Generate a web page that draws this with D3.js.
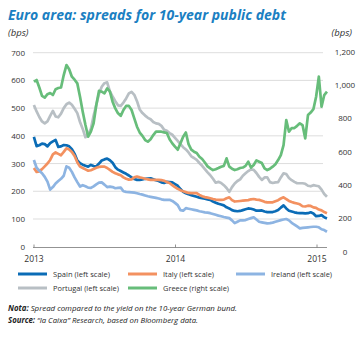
<!DOCTYPE html>
<html>
<head>
<meta charset="utf-8">
<script src="https://cdn.jsdelivr.net/npm/d3@7"></script>
<style>
  html, body { margin: 0; padding: 0; background: #fff; }
  svg { display: block; font-family: "Open Sans", "Noto Sans", sans-serif; }
</style>
</head>
<body>
<svg id="chart" width="360" height="338"></svg>
<script>
// ---- data (weekly readings, bps) ----
const dates = [
  "2013-01-02","2013-01-09","2013-01-16","2013-01-23","2013-01-30","2013-02-06","2013-02-13","2013-02-20","2013-02-27","2013-03-06",
  "2013-03-13","2013-03-20","2013-03-27","2013-04-03","2013-04-10","2013-04-17","2013-04-24","2013-05-01","2013-05-08","2013-05-15",
  "2013-05-22","2013-05-29","2013-06-05","2013-06-12","2013-06-19","2013-06-26","2013-07-03","2013-07-10","2013-07-17","2013-07-24",
  "2013-07-31","2013-08-07","2013-08-14","2013-08-21","2013-08-28","2013-09-04","2013-09-11","2013-09-18","2013-09-25","2013-10-02",
  "2013-10-09","2013-10-16","2013-10-23","2013-10-30","2013-11-06","2013-11-13","2013-11-20","2013-11-27","2013-12-04","2013-12-11",
  "2013-12-18","2013-12-25","2014-01-01","2014-01-08","2014-01-15","2014-01-22","2014-01-29","2014-02-05","2014-02-12","2014-02-19",
  "2014-02-26","2014-03-05","2014-03-12","2014-03-19","2014-03-26","2014-04-02","2014-04-09","2014-04-16","2014-04-23","2014-04-30",
  "2014-05-07","2014-05-14","2014-05-21","2014-05-28","2014-06-04","2014-06-11","2014-06-18","2014-06-25","2014-07-02","2014-07-09",
  "2014-07-16","2014-07-23","2014-07-30","2014-08-06","2014-08-13","2014-08-20","2014-08-27","2014-09-03","2014-09-10","2014-09-17",
  "2014-09-24","2014-10-01","2014-10-08","2014-10-15","2014-10-22","2014-10-29","2014-11-05","2014-11-12","2014-11-19","2014-11-26",
  "2014-12-03","2014-12-10","2014-12-17","2014-12-24","2014-12-31","2015-01-07","2015-01-14","2015-01-21","2015-01-28"
];
const spain = [396,363,366,372,370,362,374,380,385,360,362,367,366,362,352,335,311,301,296,292,289,295,291,290,300,311,315,318,312,303,287,278,273,268,263,257,250,244,241,241,243,245,246,247,243,240,237,232,230,234,233,232,226,220,208,198,193,189,186,183,180,177,175,173,171,169,163,159,155,152,149,142,138,132,129,128,129,132,135,138,137,134,130,130,131,127,125,125,125,128,132,141,149,138,130,127,124,122,121,121,120,121,124,120,110,111,114,106,102];
const italy = [284,270,272,280,290,300,313,333,340,335,330,342,355,351,342,327,305,289,284,279,274,276,280,285,288,289,289,284,277,270,265,261,258,250,245,242,243,250,253,250,248,245,243,241,241,241,241,240,238,233,230,222,215,209,204,200,197,194,193,193,193,187,182,179,177,175,172,170,169,169,170,175,178,168,163,164,165,166,167,168,171,172,170,169,166,162,160,160,160,164,168,174,178,172,165,161,158,156,153,146,145,148,147,142,140,134,131,125,121];
const ireland = [313,285,274,265,252,235,206,215,228,237,245,256,290,285,270,250,233,217,222,218,213,212,218,225,231,232,224,215,217,215,211,212,213,200,198,197,196,195,193,190,188,185,182,180,178,176,174,171,169,169,169,165,158,150,132,130,139,137,135,133,131,128,126,124,123,121,118,115,112,110,107,105,103,95,85,90,95,95,96,100,103,106,98,90,88,86,84,85,87,90,93,96,98,100,95,86,80,73,66,68,69,70,71,72,72,70,63,60,54];
const portugal = [511,488,468,452,445,452,472,490,470,467,480,500,514,520,512,498,482,450,425,395,405,425,472,512,552,577,590,593,560,542,525,510,508,520,535,553,559,548,525,495,482,473,465,460,450,445,443,436,422,418,410,404,393,382,370,359,351,340,326,320,313,302,292,280,268,258,245,231,234,230,222,212,198,215,228,237,243,256,265,273,279,277,266,252,241,250,250,233,230,232,233,250,265,262,248,240,234,229,229,229,227,220,218,222,220,218,206,190,180];
const greece = [1020,1030,985,935,925,945,952,940,975,982,985,1060,1120,1095,1050,1032,1010,930,840,760,690,720,770,880,965,960,950,980,962,900,860,830,815,850,875,875,850,800,750,715,695,670,660,675,700,720,720,720,716,712,675,650,630,612,650,690,715,645,612,600,592,570,556,535,512,500,490,495,502,510,515,560,510,498,490,495,502,505,515,540,505,520,548,540,532,500,490,498,510,525,550,580,640,790,720,742,742,755,770,760,680,820,835,855,930,1050,870,940,960];

const leftTicks = [0,100,200,300,400,500,600,700];
const rightTicks = [0,200,400,600,800,1000,1200];
const yearTicks = ["2013-01-01","2014-01-01","2015-01-01"];

const seriesNames = ["Spain (left scale)","Italy (left scale)","Ireland (left scale)","Portugal (left scale)","Greece (right scale)"];
const colors = ["#0b6cb6","#f39160","#8db4e2","#b8bfc4","#67bd7a"];

// ---- layout ----
const svg = d3.select("#chart");
const parse = d3.timeParse("%Y-%m-%d");
const x = d3.scaleTime().domain([parse("2013-01-01"), parse("2015-01-01")]).range([33.5, 316.5]);
const yL = d3.scaleLinear().domain([0, 700]).range([246.7, 52.7]);
const yR = d3.scaleLinear().domain([0, 1200]).range([251.7, 51.7]);

// title
svg.append("text").attr("x", 8).attr("y", 19.5)
  .attr("fill", "#1b7fc2").attr("font-size", 14).attr("font-weight", "bold").attr("font-style", "italic")
  .attr("textLength", 278).attr("lengthAdjust", "spacingAndGlyphs")
  .text("Euro area: spreads for 10-year public debt");
svg.append("text").attr("x", 8).attr("y", 36).attr("font-size", 9.5).attr("font-style", "italic").attr("fill", "#333").text("(bps)");
svg.append("text").attr("x", 352).attr("y", 36).attr("text-anchor", "end").attr("font-size", 9.5).attr("font-style", "italic").attr("fill", "#333").text("(bps)");

// gridlines
svg.append("g").selectAll("line").data(leftTicks.filter(d => d > 0)).join("line")
  .attr("x1", 33).attr("x2", 323).attr("y1", d => yL(d)).attr("y2", d => yL(d))
  .attr("stroke", "#d4d4d4").attr("stroke-width", 0.8);

// left axis labels
const gL = svg.append("g").attr("transform", "translate(25,0)")
  .call(d3.axisLeft(yL).tickValues(leftTicks).tickSize(0).tickPadding(0));
gL.select(".domain").remove();
gL.selectAll("text").attr("font-size", 8).attr("fill", "#333").attr("font-family", "Open Sans, sans-serif");

// right axis labels
const gR = svg.append("g").attr("transform", "translate(345,0)")
  .call(d3.axisRight(yR).tickValues(rightTicks).tickSize(0).tickPadding(0).tickFormat(d3.format(",")));
gR.select(".domain").remove();
gR.selectAll("text").attr("font-size", 8).attr("fill", "#333").attr("text-anchor", "middle").attr("font-family", "Open Sans, sans-serif");

// x axis
const gX = svg.append("g").attr("transform", "translate(0,247.5)")
  .call(d3.axisTop(x).tickValues(yearTicks.map(parse)).tickSize(3).tickFormat(d3.timeFormat("%Y")));
gX.select(".domain").attr("d", "M33,0H327").attr("stroke", "#777").attr("stroke-width", 0.8);
gX.selectAll(".tick line").attr("stroke", "#777").attr("stroke-width", 0.8);
gX.selectAll("text").attr("y", 14).attr("dy", 0).attr("font-size", 8.5).attr("fill", "#333").attr("font-family", "Open Sans, sans-serif");

// lines
const dd = dates.map(parse);
const lineL = d3.line().x((d, i) => x(dd[i])).y(d => yL(d));
const lineR = d3.line().x((d, i) => x(dd[i])).y(d => yR(d));
const allSeries = [
  { v: spain, gen: lineL, c: colors[0] },
  { v: italy, gen: lineL, c: colors[1] },
  { v: ireland, gen: lineL, c: colors[2] },
  { v: portugal, gen: lineL, c: colors[3] },
  { v: greece, gen: lineR, c: colors[4] }
];
svg.append("g").selectAll("path").data(allSeries).join("path")
  .attr("d", s => s.gen(s.v)).attr("fill", "none").attr("stroke", s => s.c)
  .attr("stroke-width", 2.7).attr("stroke-linejoin", "round");

// legend
const legPos = [[18,274],[128,274],[236,274],[18,288],[128,288]];
const legW = [57,51,61,66,66];
const lg = svg.append("g").selectAll("g").data(seriesNames).join("g")
  .attr("transform", (d, i) => `translate(${legPos[i][0]},${legPos[i][1]})`);
lg.append("line").attr("x1", 0).attr("x2", 29).attr("y1", 0).attr("y2", 0)
  .attr("stroke", (d, i) => colors[i]).attr("stroke-width", 3);
lg.append("text").attr("x", 35).attr("y", 3).attr("font-size", 8).attr("fill", "#333")
  .attr("textLength", (d, i) => legW[i]).attr("lengthAdjust", "spacingAndGlyphs").text(d => d);

// notes
const note = svg.append("text").attr("x", 8).attr("y", 311).attr("font-size", 8).attr("font-style", "italic").attr("fill", "#222")
  .attr("textLength", 229).attr("lengthAdjust", "spacingAndGlyphs");
note.append("tspan").attr("font-weight", "bold").text("Nota: ");
note.append("tspan").text("Spread compared to the yield on the 10-year German bund.");
const src = svg.append("text").attr("x", 8).attr("y", 323).attr("font-size", 8).attr("font-style", "italic").attr("fill", "#222")
  .attr("textLength", 190).attr("lengthAdjust", "spacingAndGlyphs");
src.append("tspan").attr("font-weight", "bold").text("Source: ");
src.append("tspan").text("\u201cla Caixa\u201d Research, based on Bloomberg data.");
</script>
</body>
</html>
